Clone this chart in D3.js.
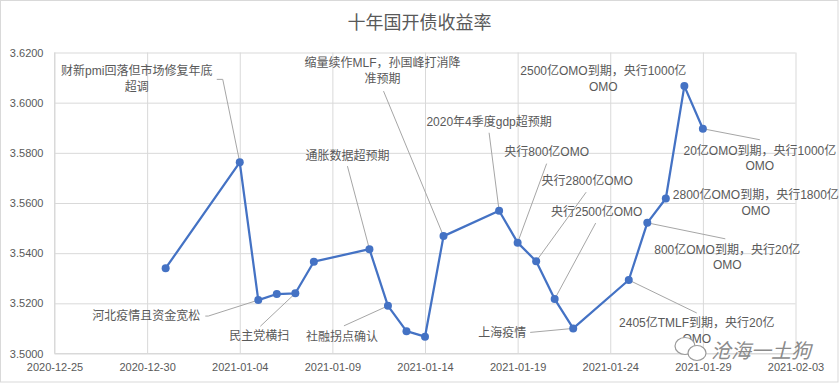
<!DOCTYPE html>
<html lang="zh">
<head>
    <meta charset="UTF-8">
    <title>十年国开债收益率</title>
    <script src="https://cdnjs.cloudflare.com/ajax/libs/d3/7.8.5/d3.min.js"></script>
    <style>
        body { margin: 0; background: #fff; }
        text { font-family: "Liberation Sans", "Noto Sans CJK SC", sans-serif; }
    </style>
</head>
<body>
    <div id="chart"></div>

    <script>
        // Data
        const dates = ["2020-12-31", "2021-01-04", "2021-01-05", "2021-01-06", "2021-01-07", "2021-01-08",
            "2021-01-11", "2021-01-12", "2021-01-13", "2021-01-14", "2021-01-15", "2021-01-18",
            "2021-01-19", "2021-01-20", "2021-01-21", "2021-01-22", "2021-01-25", "2021-01-26",
            "2021-01-27", "2021-01-28", "2021-01-29"];
        const yields = [3.5340, 3.5762, 3.5213, 3.5237, 3.5240, 3.5366,
            3.5416, 3.5190, 3.5089, 3.5067, 3.5468, 3.5569,
            3.5442, 3.5368, 3.5217, 3.5100, 3.5293, 3.5521,
            3.5618, 3.6066, 3.5896];
        const xTicks = ["2020-12-25", "2020-12-30", "2021-01-04", "2021-01-09", "2021-01-14",
            "2021-01-19", "2021-01-24", "2021-01-29", "2021-02-03"];
        const yTicks = [3.50, 3.52, 3.54, 3.56, 3.58, 3.60, 3.62];

        // Annotation text, keyed by point index
        const noteIndex = [1, 10, 6, 11, 12, 13, 14, 19, 20, 18, 17, 16, 15, 2, 4, 7];
        const noteText = [
            ["财新pmi回落但市场修复年底", "超调"],
            ["缩量续作MLF，孙国峰打消降", "准预期"],
            ["通胀数据超预期"],
            ["2020年4季度gdp超预期"],
            ["央行800亿OMO"],
            ["央行2800亿OMO"],
            ["央行2500亿OMO"],
            ["2500亿OMO到期，央行1000亿", "OMO"],
            ["20亿OMO到期，央行1000亿", "OMO"],
            ["2800亿OMO到期，央行1800亿", "OMO"],
            ["800亿OMO到期，央行20亿", "OMO"],
            ["2405亿TMLF到期，央行20亿", "OMO"],
            ["上海疫情"],
            ["河北疫情且资金宽松"],
            ["民主党横扫"],
            ["社融拐点确认"]
        ];

        // Label placement relative to the point: label offset, leader start, hook
        const noteLayout = [
            {dx: -103, dy: -91, lx: -23, ly: -83, hook: 6},
            {dx: -61, dy: -173, lx: -60, ly: -145},
            {dx: -22, dy: -93, lx: -22, ly: -83},
            {dx: -10, dy: -89, lx: -10, ly: -78},
            {dx: 29, dy: -91, lx: 29, ly: -79},
            {dx: 51, dy: -80, lx: 50, ly: -69},
            {dx: 42, dy: -87, lx: 41, ly: -76},
            {dx: -81, dy: -15},
            {dx: 57, dy: 22, lx: 57, ly: 11},
            {dx: 90, dy: -3},
            {dx: 80, dy: 27, lx: 78, ly: 16},
            {dx: 68, dy: 43, lx: 68, ly: 33},
            {dx: -71, dy: 5, lx: -43, ly: 4},
            {dx: -112, dy: 16, lx: -53, ly: 16, hook: 3},
            {dx: -36, dy: 43, lx: -35, ly: 33},
            {dx: -46, dy: 31, lx: -44, ly: 20}
        ];

        const W = 839, H = 385;
        const margin = {top: 52.5, right: 43.5, bottom: 31.5, left: 54.5};
        const width = W - margin.left - margin.right;
        const height = H - margin.top - margin.bottom;

        const parse = d3.utcParse("%Y-%m-%d");
        const fmt = d3.utcFormat("%Y-%m-%d");
        const textColor = "#595959";
        const gridColor = "#d9d9d9";

        const root = d3.select("#chart").append("svg")
            .attr("width", W)
            .attr("height", H);

        // Chart border
        root.append("rect")
            .attr("x", 0.5).attr("y", 0.5)
            .attr("width", W - 1.5).attr("height", H - 3.5)
            .attr("fill", "#fff")
            .attr("stroke", gridColor);

        root.append("text")
            .attr("x", W / 2)
            .attr("y", 23)
            .attr("text-anchor", "middle")
            .attr("dominant-baseline", "central")
            .attr("font-size", 18)
            .attr("font-family", "Noto Sans CJK SC")
            .attr("fill", textColor)
            .text("十年国开债收益率");

        const svg = root.append("g")
            .attr("transform", `translate(${margin.left},${margin.top})`);

        const x = d3.scaleUtc()
            .domain([parse(xTicks[0]), parse(xTicks[xTicks.length - 1])])
            .range([0, width]);

        const y = d3.scaleLinear()
            .domain([yTicks[0], yTicks[yTicks.length - 1]])
            .range([height, 0]);

        // Grid lines
        const xAxis = svg.append("g")
            .attr("transform", `translate(0,${height})`)
            .call(d3.axisBottom(x)
                .tickValues(xTicks.map(parse))
                .tickFormat(fmt)
                .tickSize(-height)
                .tickPadding(10));

        const yAxis = svg.append("g")
            .call(d3.axisLeft(y)
                .tickValues(yTicks)
                .tickFormat(d3.format(".4f"))
                .tickSize(-width)
                .tickPadding(11));

        [xAxis, yAxis].forEach(a => {
            a.select(".domain").remove();
            a.selectAll(".tick line").attr("stroke", gridColor);
            a.selectAll(".tick text")
                .attr("fill", textColor)
                .attr("font-size", 11)
                .attr("font-family", "Liberation Sans");
        });

        // Axis lines
        svg.append("line")
            .attr("x1", 0).attr("x2", 0)
            .attr("y1", 0).attr("y2", height)
            .attr("stroke", gridColor);
        svg.append("line")
            .attr("x1", 0).attr("x2", width)
            .attr("y1", height).attr("y2", height)
            .attr("stroke", gridColor);

        const points = dates.map((d, i) => ({date: parse(d), value: yields[i]}));

        // Leader lines and labels
        const notes = noteIndex.map((idx, k) => ({
            p: points[idx], lines: noteText[k], lay: noteLayout[k]
        }));

        notes.filter(n => n.lay.lx !== undefined).forEach(n => {
            const px = x(n.p.date), py = y(n.p.value);
            const sx = px + n.lay.lx, sy = py + n.lay.ly;
            const path = d3.path();
            path.moveTo(sx, sy);
            let hx = sx;
            if (n.lay.hook) { hx = sx + n.lay.hook; path.lineTo(hx, sy); }
            path.lineTo(px, py);
            svg.append("path")
                .attr("d", path.toString())
                .attr("fill", "none")
                .attr("stroke", "#a6a6a6")
                .attr("stroke-width", 1);
        });

        const line = d3.line()
            .x(d => x(d.date))
            .y(d => y(d.value));

        svg.append("path")
            .datum(points)
            .attr("fill", "none")
            .attr("stroke", "#4472C4")
            .attr("stroke-width", 2.25)
            .attr("stroke-linejoin", "round")
            .attr("d", line);

        svg.selectAll("circle.dot")
            .data(points)
            .enter()
            .append("circle")
            .attr("class", "dot")
            .attr("cx", d => x(d.date))
            .attr("cy", d => y(d.value))
            .attr("r", 4)
            .attr("fill", "#4472C4");

        notes.forEach(n => {
            const px = x(n.p.date), py = y(n.p.value);
            const t = svg.append("text")
                .attr("text-anchor", "middle")
                .attr("dominant-baseline", "central")
                .attr("font-size", 12)
                .attr("fill", textColor);
            n.lines.forEach((s, j) => {
                t.append("tspan")
                    .attr("x", px + n.lay.dx)
                    .attr("y", py + n.lay.dy + j * 15.5)
                    .text(s);
            });
        });

        // Watermark
        const wm = root.append("g").attr("transform", "translate(0,0)");
        wm.append("ellipse")
            .attr("cx", 685).attr("cy", 346).attr("rx", 10).attr("ry", 8.5)
            .attr("fill", "#fff").attr("stroke", "#9a9a9a").attr("stroke-width", 1.2);
        wm.append("ellipse")
            .attr("cx", 697).attr("cy", 353).attr("rx", 9).attr("ry", 7.5)
            .attr("fill", "#fff").attr("stroke", "#9a9a9a").attr("stroke-width", 1.2);
        wm.append("text")
            .attr("x", 761)
            .attr("y", 351)
            .attr("text-anchor", "middle")
            .attr("dominant-baseline", "central")
            .attr("font-size", 20)
            .attr("font-family", "Noto Sans CJK SC")
            .attr("font-style", "italic")
            .attr("fill", "#8a8a8a")
            .attr("transform", "skewX(0)")
            .text("沧海一土狗");
    </script>
</body>
</html>
